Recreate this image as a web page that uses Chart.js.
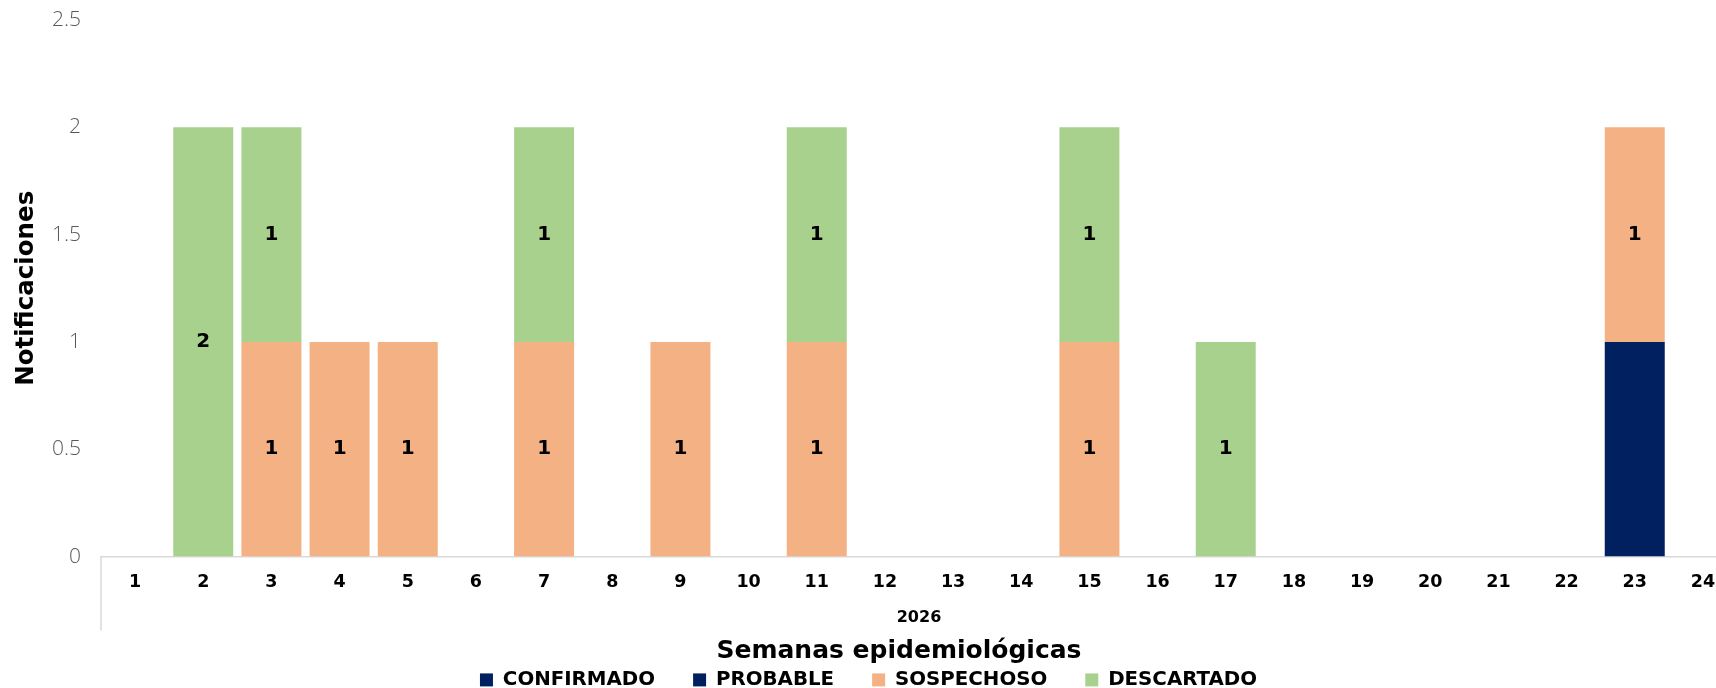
<!DOCTYPE html>
<html>
<head>
<meta charset="utf-8">
<script src="https://cdn.jsdelivr.net/npm/chart.js"></script>
<style>
  html, body { margin: 0; padding: 0; overflow: hidden; background: #fff; }
  #wrap { width: 1740px; height: 688px; }
</style>
</head>
<body>
<div id="wrap"><canvas id="chart"></canvas></div>
<script>
// Semanas epidemiológicas 1..24 (2026)
let weeks = ['1', '2', '3', '4', '5', '6', '7', '8', '9', '10', '11', '12',
             '13', '14', '15', '16', '17', '18', '19', '20', '21', '22', '23', '24'];

let confirmado = [null, null, null, null, null, null, null, null, null, null, null, null,
                  null, null, null, null, null, null, null, null, null, null, 1, null];
let probable   = [null, null, null, null, null, null, null, null, null, null, null, null,
                  null, null, null, null, null, null, null, null, null, null, null, null];
let sospechoso = [null, null, 1, 1, 1, null, 1, null, 1, null, 1, null,
                  null, null, 1, null, null, null, null, null, null, null, 1, null];
let descartado = [null, 2, 1, null, null, null, 1, null, null, null, 1, null,
                  null, null, 1, null, 1, null, null, null, null, null, null, null];

let yTicks = Array.of(0, 0.5, 1, 1.5, 2, 2.5);

const navy = '#002060';
const salmon = '#F4B183';
const green = '#A9D18E';
const boldFont = '"DejaVu Sans", sans-serif';
const lightFont = '"Open Sans", sans-serif';

// value labels in the middle of each segment
const barLabels = {
    id: 'barLabels',
    afterDatasetsDraw(chart) {
        const ctx = chart.ctx;
        ctx.save();
        ctx.font = 'bold 20px ' + boldFont;
        ctx.textAlign = 'center';
        ctx.textBaseline = 'middle';
        ctx.fillStyle = '#000';
        chart.data.datasets.forEach((ds, i) => {
            if (!ds.showLabels) return;
            chart.getDatasetMeta(i).data.forEach((bar, j) => {
                const v = ds.data[j];
                if (!v) return;
                const p = bar.getProps(['x', 'y', 'base'], true);
                ctx.fillText(v, p.x, (p.y + p.base) / 2);
            });
        });
        ctx.restore();
    }
};

// the long group separator lines under the category axis
const groupLines = {
    id: 'groupLines',
    afterDraw(chart) {
        const x = chart.scales.x;
        const ctx = chart.ctx;
        ctx.save();
        ctx.strokeStyle = '#d9d9d9';
        ctx.lineWidth = 1.5;
        [x.left, x.right].forEach(px => {
            ctx.beginPath();
            ctx.moveTo(px, x.top);
            ctx.lineTo(px, x.top + 74);
            ctx.stroke();
        });
        ctx.restore();
    }
};

new Chart(document.getElementById('chart').getContext('2d'), {
    type: 'bar',
    data: {
        labels: weeks,
        datasets: [
            { label: 'CONFIRMADO', data: confirmado, backgroundColor: navy, showLabels: false },
            { label: 'PROBABLE', data: probable, backgroundColor: navy, showLabels: false },
            { label: 'SOSPECHOSO', data: sospechoso, backgroundColor: salmon, showLabels: true },
            { label: 'DESCARTADO', data: descartado, backgroundColor: green, showLabels: true }
        ]
    },
    options: {
        responsive: true,
        maintainAspectRatio: false,
        animation: false,
        layout: { padding: { top: 20, right: 3, left: 0, bottom: 0 } },
        datasets: { bar: { barPercentage: 0.88, categoryPercentage: 1, borderWidth: 0 } },
        scales: {
            x: {
                stacked: true,
                grid: { display: false, drawTicks: false },
                border: { display: true, color: '#d9d9d9', width: 1.5 },
                ticks: { color: '#000', padding: 15.5, maxRotation: 0, autoSkip: false,
                         font: { family: boldFont, weight: 'bold', size: 17.5 } },
                title: { display: true, text: '2026', color: '#000',
                         padding: { top: -0.8, bottom: 0 },
                         font: { family: boldFont, weight: 'bold', size: 16 } }
            },
            y: {
                stacked: true,
                min: 0,
                max: 2.5,
                afterBuildTicks(axis) { axis.ticks = yTicks.map(v => ({ value: v })); },
                afterFit(axis) { axis.width = 101; },
                grid: { display: false, drawTicks: true, tickLength: 20 },
                border: { display: false },
                ticks: { color: '#595959', padding: 0,
                         callback: v => String(v),
                         font: { family: lightFont, weight: 300, size: 21 } },
                title: { display: true, text: 'Notificaciones', color: '#000',
                         padding: { top: 12, bottom: 0 },
                         font: { family: boldFont, weight: 'bold', size: 24.5 } }
            }
        },
        plugins: {
            tooltip: { enabled: false },
            title: {
                display: true,
                position: 'bottom',
                weight: 500,
                // leading spaces nudge it right, as in the original layout
                text: '       Semanas epidemiológicas',
                color: '#000',
                padding: { top: 9.4, bottom: -34.4 },
                font: { family: boldFont, weight: 'bold', size: 25 }
            },
            legend: {
                position: 'bottom',
                maxHeight: 56,
                labels: {
                    color: '#000',
                    boxWidth: 13,
                    boxHeight: 13,
                    padding: 38,
                    font: { family: boldFont, weight: 'bold', size: 19.8 }
                }
            }
        }
    },
    plugins: [barLabels, groupLines]
});
</script>
</body>
</html>
